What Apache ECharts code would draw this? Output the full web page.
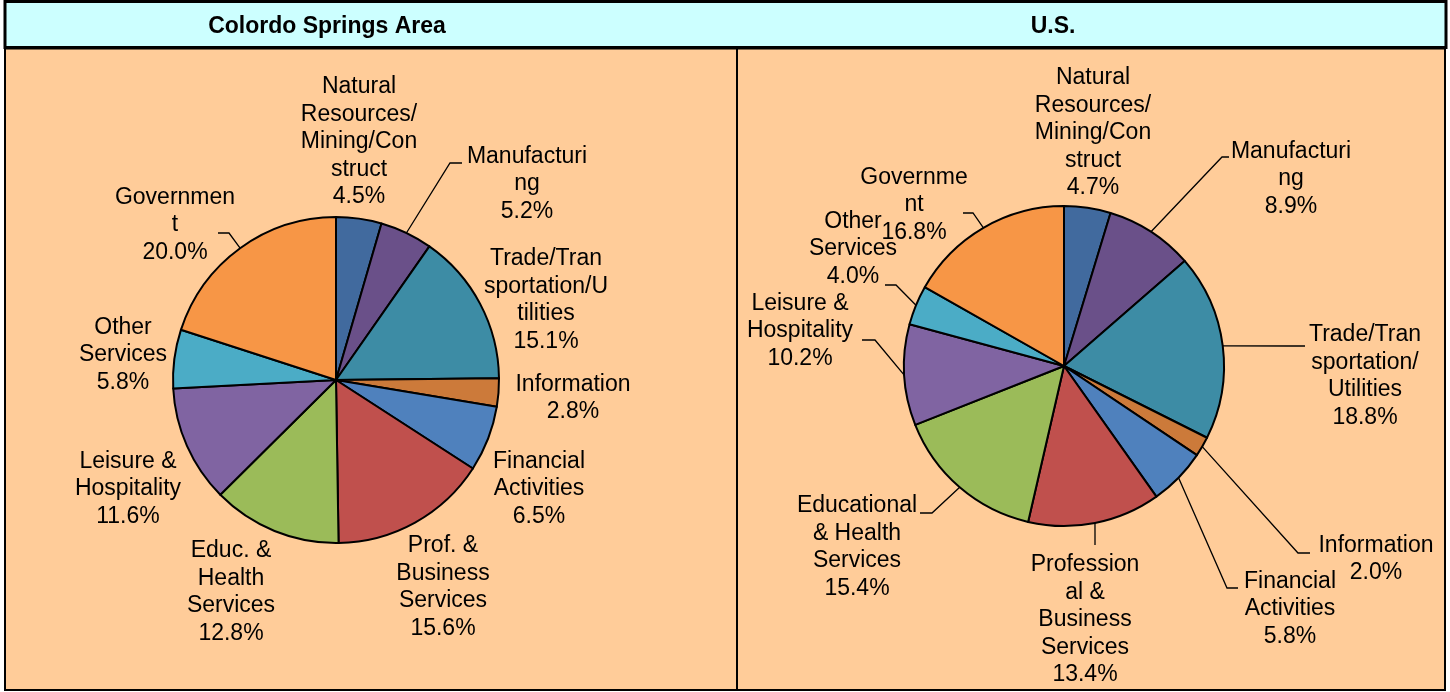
<!DOCTYPE html>
<html>
<head>
<meta charset="utf-8">
<script src="https://cdn.jsdelivr.net/npm/echarts@6/dist/echarts.min.js"></script>
<style>
  html, body { margin: 0; padding: 0; background: #fff; }
  #chart { width: 1450px; height: 692px; }
</style>
</head>
<body>
<div id="chart"></div>
<script>
// sector labels as they are wrapped in the picture
const coloradoCategories = [
  'Natural\nResources/\nMining/Con\nstruct', 'Manufacturi\nng', 'Trade/Tran\nsportation/U\ntilities',
  'Information', 'Financial\nActivities', 'Prof. &\nBusiness\nServices', 'Educ. &\nHealth\nServices',
  'Leisure &\nHospitality', 'Other\nServices', 'Governmen\nt'
];
const coloradoValues = [4.5, 5.2, 15.1, 2.8, 6.5, 15.6, 12.8, 11.6, 5.8, 20.0];

const usCategories = [
  'Natural\nResources/\nMining/Con\nstruct', 'Manufacturi\nng', 'Trade/Tran\nsportation/\nUtilities',
  'Information', 'Financial\nActivities', 'Profession\nal &\nBusiness\nServices', 'Educational\n& Health\nServices',
  'Leisure &\nHospitality', 'Other\nServices', 'Governme\nnt'
];
const usValues = [4.7, 8.9, 18.8, 2.0, 5.8, 13.4, 15.4, 10.2, 4.0, 16.8];

const sliceColors = ['#416a9e', '#6a5089', '#3d8ca5', '#cc7a3a', '#4f81bd',
                     '#c0504d', '#9bbb59', '#8064a2', '#4bacc6', '#f79646'];

// label centres (px)
const coloradoLabelPos = [[359, 142], [527, 184], [546, 300], [573, 398], [539, 489],
                          [443, 587], [231, 592], [128, 489], [123, 355], [175, 225]];
const usLabelPos = [[1093, 133], [1291, 179], [1365, 376], [1376, 559], [1290, 609],
                    [1085, 620], [857, 547], [800, 331], [853, 249], [914, 205]];

// leader line elbow and end near the label: [kneeX, kneeY, endX, endY]; null = no line
const coloradoLeader = [null, [450, 163, 462, 163], null, null, null,
                        null, null, null, null, [229, 233, 218, 233]];
const usLeader = [null, [1222, 157, 1229, 157], [1293, 346, 1305, 346], [1298, 553, 1310, 553],
                  [1227, 588, 1238, 588], [1095, 534, 1095, 545], [932, 513, 920, 513],
                  [875, 340, 862, 340], [896, 285, 885, 285], [973, 213, 963, 213]];

const FONT = 'Liberation Sans, Arial, sans-serif';

function buildData(names, values, leader) {
  return names.map((n, i) => ({
    name: n,
    value: values[i],
    itemStyle: { color: sliceColors[i] },
    labelLine: { show: leader[i] != null }
  }));
}

function pieSeries(names, values, leader, pos, center, radius) {
  return {
    type: 'pie',
    center: center,
    radius: radius,
    startAngle: 90,
    clockwise: true,
    avoidLabelOverlap: false,
    silent: true,
    data: buildData(names, values, leader),
    itemStyle: { borderColor: '#000', borderWidth: 2 },
    label: {
      show: true,
      position: 'outside',
      color: '#000',
      fontFamily: FONT,
      fontSize: 23,
      lineHeight: 27.5,
      align: 'center',
      formatter: p => p.name + '\n' + p.value.toFixed(1) + '%'
    },
    labelLine: {
      length: 10,
      length2: 12,
      lineStyle: { color: '#000', width: 1.3 }
    },
    labelLayout: function (params) {
      const i = params.dataIndex;
      const p = pos[i];
      const out = { x: p[0], y: p[1], align: 'center', verticalAlign: 'middle' };
      const l = leader[i];
      if (l && params.labelLinePoints) {
        // start from the point on the arc that the pie layout computed
        const start = params.labelLinePoints[0];
        out.labelLinePoints = [start, [l[0], l[1]], [l[2], l[3]]];
      }
      return out;
    }
  };
}

const chart = echarts.init(document.getElementById('chart'), null, { renderer: 'canvas' });

chart.setOption({
  backgroundColor: '#fff',
  animation: false,
  graphic: [
    { type: 'rect', shape: { x: 5, y: 1.5, width: 1441, height: 46 },
      style: { fill: '#ccffff', stroke: '#000', lineWidth: 3 } },
    { type: 'rect', shape: { x: 5, y: 48.5, width: 732, height: 641.5 },
      style: { fill: '#ffcc99', stroke: '#000', lineWidth: 2 } },
    { type: 'rect', shape: { x: 737, y: 48.5, width: 708, height: 641.5 },
      style: { fill: '#ffcc99', stroke: '#000', lineWidth: 2 } },
    { type: 'text', x: 327, y: 27, z: 10,
      style: { text: 'Colordo Springs Area', align: 'center', verticalAlign: 'middle',
               font: 'bold 23px ' + FONT, fill: '#000' } },
    { type: 'text', x: 1053, y: 27, z: 10,
      style: { text: 'U.S.', align: 'center', verticalAlign: 'middle',
               font: 'bold 23px ' + FONT, fill: '#000' } }
  ],
  series: [
    pieSeries(coloradoCategories, coloradoValues, coloradoLeader, coloradoLabelPos, [336, 380], 163),
    pieSeries(usCategories, usValues, usLeader, usLabelPos, [1064, 366], 160)
  ]
});
</script>
</body>
</html>
